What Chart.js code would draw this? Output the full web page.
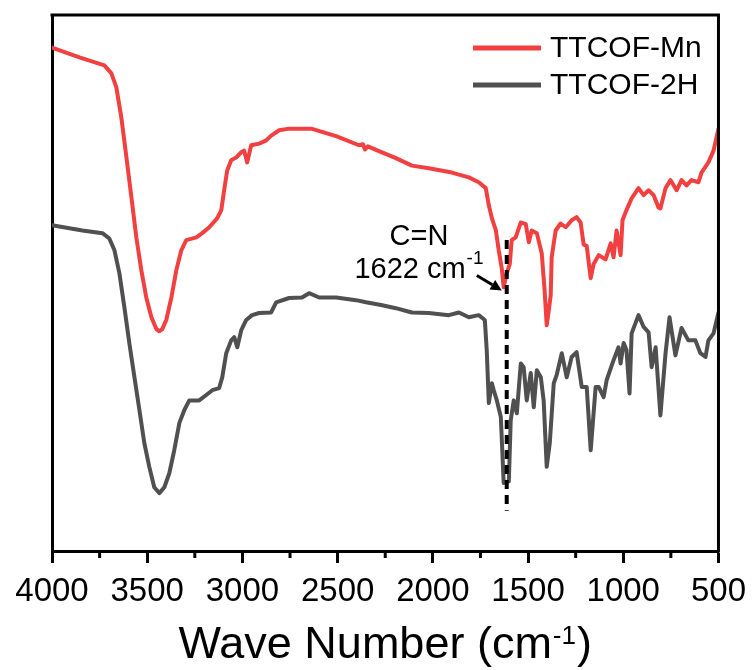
<!DOCTYPE html>
<html>
<head>
<meta charset="utf-8">
<script src="https://cdn.jsdelivr.net/npm/chart.js@4"></script>
<style>
html,body{margin:0;padding:0;background:#fff}
#wrap{width:755px;height:670px;position:relative}
</style>
</head>
<body>
<div id="wrap"><canvas id="c"></canvas></div>
<script>
const FONT = '"Liberation Sans", Arial, sans-serif';

// x axis ticks (cm-1)
const majorTicks = [4000, 3500, 3000, 2500, 2000, 1500, 1000, 500];
const minorTicks = [3750, 3250, 2750, 2250, 1750, 1250, 750];

const seriesLabels = ['TTCOF-Mn', 'TTCOF-2H'];

// TTCOF-Mn
const mnWavenumber = [4000,3856,3725,3688,3662,3636,3609,3583,3557,3531,3505,3478,3452,3436,3421,3400,3373,3347,3321,3295,3242,3211,3174,3132,3111,3096,3080,3059,3033,3006,2991,2975,2954,2912,2875,2849,2807,2755,2639,2508,2388,2367,2356,2341,2283,2194,2110,2021,1900,1811,1759,1722,1706,1690,1669,1654,1638,1628,1612,1596,1586,1565,1538,1512,1496,1481,1454,1428,1413,1402,1391,1381,1376,1355,1329,1302,1271,1245,1224,1208,1192,1171,1156,1129,1093,1066,1051,1035,1014,1004,983,956,920,893,867,841,815,805,778,752,720,694,668,642,605,589,553,526,500];
const mnSignal = [93.9,92.1,90.6,89.1,86.5,80.9,73.4,66.0,58.5,52.4,47.3,43.6,41.4,41.0,41.4,43.1,47.3,52.4,56.1,58.0,58.5,59.3,60.4,62.1,63.6,67.3,71.0,72.9,73.4,74.4,74.7,72.5,75.7,76.0,76.6,77.5,78.5,78.8,78.8,77.4,75.7,75.9,74.9,75.5,74.6,73.3,71.9,71.4,70.6,69.7,68.8,67.7,64.5,62.1,59.8,56.1,52.7,49.2,51.8,53.5,58.0,58.5,61.3,61.0,57.6,59.8,59.3,55.5,48.6,42.1,44.9,47.7,54.8,59.8,61.1,60.4,61.7,62.3,61.3,57.2,56.9,50.9,53.5,55.2,54.4,57.4,54.8,59.8,55.2,61.7,63.6,65.8,67.7,66.4,67.3,66.4,64.1,63.9,67.7,69.2,67.3,69.2,68.2,69.2,68.8,70.6,72.5,74.7,78.8];

// TTCOF-2H
const h2Wavenumber = [4000,3840,3735,3699,3672,3646,3620,3594,3567,3541,3515,3489,3463,3436,3410,3384,3358,3331,3305,3279,3227,3190,3158,3122,3106,3085,3059,3043,3027,3006,2980,2949,2912,2849,2823,2755,2687,2650,2597,2508,2403,2351,2272,2194,2110,2021,1916,1863,1811,1759,1727,1717,1706,1690,1680,1664,1643,1628,1601,1591,1575,1559,1538,1523,1507,1486,1470,1454,1433,1418,1402,1386,1365,1350,1323,1297,1271,1245,1218,1192,1171,1145,1129,1103,1087,1051,1025,1014,998,983,967,956,920,893,867,851,830,805,778,757,726,694,658,621,595,568,553,526,500];
const h2Signal = [60.8,59.8,59.3,58.3,56.1,51.8,45.5,38.8,32.4,26.3,20.1,15.7,11.9,10.8,11.9,14.5,18.8,23.9,26.3,28.1,28.1,29.1,30.0,30.4,32.4,36.9,39.3,39.9,38.0,41.2,43.1,44.0,44.4,44.5,46.4,47.2,47.3,48.1,47.3,47.3,46.8,46.4,45.9,45.3,44.5,44.4,44.0,44.5,43.6,44.0,43.1,37.5,27.6,31.3,30.0,28.1,25.0,12.7,13.0,24.4,28.1,25.7,35.0,34.3,28.1,33.2,26.8,33.7,32.4,28.1,15.7,20.1,31.3,32.8,36.9,32.4,36.2,37.1,30.6,30.6,18.8,30.6,30.6,28.7,31.9,35.6,38.0,35.0,38.8,37.5,29.4,40.6,44.0,41.8,40.8,34.3,38.0,25.3,36.9,43.6,36.5,41.6,39.3,39.3,36.9,36.2,39.3,40.6,44.5];

// C=N marker
const markerWavenumber = 1612;
const markerSpan = [58, 7.5];

const RED = 'rgb(242,64,64)';
const GRAY = 'rgb(80,80,80)';

function pts(xs, ys) { return xs.map((x, i) => ({ x: x, y: ys[i] })); }

const decor = {
  id: 'decor',
  afterDatasetsDraw(chart) {
    const ctx = chart.ctx;
    const a = chart.chartArea;
    const xs = chart.scales.x, ys = chart.scales.y;
    ctx.save();
    ctx.strokeStyle = '#000';
    ctx.fillStyle = '#000';
    // top & right frame
    ctx.lineWidth = 3;
    ctx.beginPath();
    ctx.moveTo(a.left - 1.5, a.top);
    ctx.lineTo(a.right, a.top);
    ctx.lineTo(a.right, a.bottom + 1.5);
    ctx.stroke();
    // minor ticks
    ctx.lineWidth = 3;
    minorTicks.forEach(v => {
      const px = xs.getPixelForValue(v);
      ctx.beginPath();
      ctx.moveTo(px, a.bottom);
      ctx.lineTo(px, a.bottom + 7);
      ctx.stroke();
    });
    // arrow
    const tx = xs.getPixelForValue(1769), ty = ys.getPixelForValue(51.4);
    const hx = xs.getPixelForValue(1638), hy = ys.getPixelForValue(48.6);
    const ang = Math.atan2(hy - ty, hx - tx);
    const hl = 11, hw = 5.5;
    ctx.lineWidth = 3;
    ctx.beginPath();
    ctx.moveTo(tx, ty);
    ctx.lineTo(hx - hl * Math.cos(ang), hy - hl * Math.sin(ang));
    ctx.stroke();
    ctx.beginPath();
    ctx.moveTo(hx, hy);
    ctx.lineTo(hx - hl * Math.cos(ang) + hw * Math.sin(ang), hy - hl * Math.sin(ang) - hw * Math.cos(ang));
    ctx.lineTo(hx - hl * Math.cos(ang) - hw * Math.sin(ang), hy - hl * Math.sin(ang) + hw * Math.cos(ang));
    ctx.closePath();
    ctx.fill();
    // annotation text
    const cx = xs.getPixelForValue(2073);
    ctx.textBaseline = 'alphabetic';
    ctx.textAlign = 'center';
    ctx.font = '29px ' + FONT;
    ctx.fillText('C=N', cx, ys.getPixelForValue(57.0));
    ctx.textAlign = 'left';
    const mainTxt = '1622 cm';
    const w1 = ctx.measureText(mainTxt).width;
    ctx.font = '19px ' + FONT;
    const w2 = ctx.measureText('-1').width;
    const startX = cx - (w1 + w2 + 1) / 2;
    const by = ys.getPixelForValue(50.9);
    ctx.font = '29px ' + FONT;
    ctx.fillText(mainTxt, startX, by);
    ctx.font = '19px ' + FONT;
    ctx.fillText('-1', startX + w1 + 1, by - 14);
    // legend
    const legend = [[seriesLabels[0], RED, 48], [seriesLabels[1], GRAY, 85]];
    legend.forEach(([lab, col, y]) => {
      ctx.strokeStyle = col;
      ctx.lineWidth = 5;
      ctx.beginPath();
      ctx.moveTo(473, y);
      ctx.lineTo(541, y);
      ctx.stroke();
      ctx.fillStyle = '#000';
      ctx.font = '30px ' + FONT;
      ctx.textBaseline = 'middle';
      ctx.fillText(lab, 550, y + 1);
    });
    // axis title
    ctx.textBaseline = 'alphabetic';
    ctx.fillStyle = '#000';
    const t1 = 'Wave Number (cm', t2 = '-1', t3 = ')';
    ctx.font = '45px ' + FONT;
    const a1 = ctx.measureText(t1).width, a3 = ctx.measureText(t3).width;
    ctx.font = '26px ' + FONT;
    const a2 = ctx.measureText(t2).width;
    const total = a1 + a2 + a3 + 2;
    let sx = (a.left + a.right) / 2 - total / 2;
    const tb = 658;
    ctx.font = '45px ' + FONT;
    ctx.fillText(t1, sx, tb);
    ctx.font = '26px ' + FONT;
    ctx.fillText(t2, sx + a1 + 1, tb - 14);
    ctx.font = '45px ' + FONT;
    ctx.fillText(t3, sx + a1 + a2 + 2, tb);
    ctx.restore();
  }
};

new Chart(document.getElementById('c'), {
  type: 'line',
  data: {
    datasets: [
      {
        label: 'C=N',
        data: [{ x: markerWavenumber, y: markerSpan[0] }, { x: markerWavenumber, y: markerSpan[1] }],
        borderColor: '#000', borderWidth: 4, borderDash: [9, 6], pointRadius: 0, fill: false
      },
      {
        label: seriesLabels[0],
        data: pts(mnWavenumber, mnSignal),
        borderColor: RED, borderWidth: 4, pointRadius: 0, tension: 0, fill: false,
        borderJoinStyle: 'round', borderCapStyle: 'round'
      },
      {
        label: seriesLabels[1],
        data: pts(h2Wavenumber, h2Signal),
        borderColor: GRAY, borderWidth: 4, pointRadius: 0, tension: 0, fill: false,
        borderJoinStyle: 'round', borderCapStyle: 'round'
      }
    ]
  },
  options: {
    responsive: true,
    maintainAspectRatio: false,
    animation: false,
    parsing: true,
    layout: { padding: { left: 0, right: 35, top: 15, bottom: 0 } },
    plugins: { legend: { display: false }, tooltip: { enabled: false } },
    scales: {
      x: {
        type: 'linear',
        reverse: true,
        min: 500, max: 4000,
        afterFit(s) { s.height = 119; },
        afterBuildTicks(s) { s.ticks = majorTicks.map(v => ({ value: v })); },
        ticks: {
          color: '#000',
          font: { family: FONT, size: 33 },
          padding: 9,
          maxRotation: 0,
          autoSkip: false,
          callback: v => String(v)
        },
        grid: { display: true, drawOnChartArea: false, drawTicks: true, tickLength: 12, tickWidth: 3, tickColor: '#000' },
        border: { display: true, width: 3, color: '#000' }
      },
      y: {
        type: 'linear',
        min: 0, max: 100,
        afterFit(s) { s.width = 52; },
        ticks: { display: false },
        grid: { display: false },
        border: { display: true, width: 3, color: '#000' }
      }
    }
  },
  plugins: [decor]
});
</script>
</body>
</html>
